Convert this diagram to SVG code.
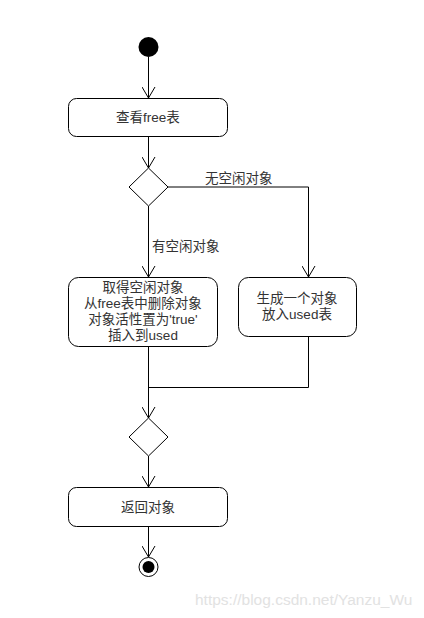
<svg xmlns="http://www.w3.org/2000/svg" width="424" height="618" viewBox="0 0 424 618">
<style>
.n{fill:#fff;stroke:#000;stroke-width:1}
.t{font-family:"Liberation Sans","Noto Sans CJK SC",sans-serif;font-size:13.5px;fill:#333;text-anchor:middle}
.l{font-family:"Liberation Sans","Noto Sans CJK SC",sans-serif;font-size:13.5px;fill:#333}
.c{fill:none;stroke:#000;stroke-width:1}
.w{font-family:"Liberation Sans",sans-serif;font-size:15.5px;fill:#e2e2e2}
</style>
<defs>
<marker id="a" markerWidth="12" markerHeight="14" refX="11" refY="7" orient="auto" markerUnits="userSpaceOnUse">
<path d="M0,0.5 L11,7 L0,13.5" fill="none" stroke="#000" stroke-width="1"/>
</marker>
</defs>
<rect width="424" height="618" fill="#fff"/>
<g id="connectors">
<path class="c" d="M148.5,57 V98" marker-end="url(#a)"/>
<path class="c" d="M148.5,136 V168" marker-end="url(#a)"/>
<path class="c" d="M148.5,206 V277" marker-end="url(#a)"/>
<path class="c" d="M168,187 H308.5 V277" marker-end="url(#a)"/>
<path class="c" d="M148.5,347 V418" marker-end="url(#a)"/>
<path class="c" d="M308.5,337 V387.5 H148.5"/>
<path class="c" d="M148.5,456 V487" marker-end="url(#a)"/>
<path class="c" d="M148.5,527 V557" marker-end="url(#a)"/>
<text class="l" x="205" y="183">无空闲对象</text>
<text class="l" x="152" y="251">有空闲对象</text>
</g>
<g id="start"><circle cx="148.5" cy="47" r="10" fill="#000"/></g>
<g id="check"><rect class="n" x="68.5" y="98.5" width="159" height="38" rx="8"/><text class="t" x="148" y="122">查看free表</text></g>
<g id="d1"><path class="n" d="M148.5,168 L168,187 L148.5,206 L129,187 Z"/></g>
<g id="take"><rect class="n" x="68.5" y="277.5" width="149" height="69" rx="10"/>
<text class="t" x="143" y="292">取得空闲对象</text>
<text class="t" x="143" y="308">从free表中删除对象</text>
<text class="t" x="143" y="324">对象活性置为'true'</text>
<text class="t" x="143" y="340">插入到used</text></g>
<g id="create"><rect class="n" x="238.5" y="277.5" width="118" height="59" rx="10"/>
<text class="t" x="297" y="303">生成一个对象</text>
<text class="t" x="297" y="319">放入used表</text></g>
<g id="d2"><path class="n" d="M148.5,418 L168,437 L148.5,456 L129,437 Z"/></g>
<g id="ret"><rect class="n" x="68.5" y="487.5" width="159" height="39" rx="8"/><text class="t" x="148" y="512">返回对象</text></g>
<g id="end"><circle cx="148.5" cy="567" r="9.5" fill="#fff" stroke="#000"/><circle cx="148.5" cy="567" r="6" fill="#000"/></g>
<text class="w" x="195" y="605">https://blog.csdn.net/Yanzu_Wu</text>
</svg>
